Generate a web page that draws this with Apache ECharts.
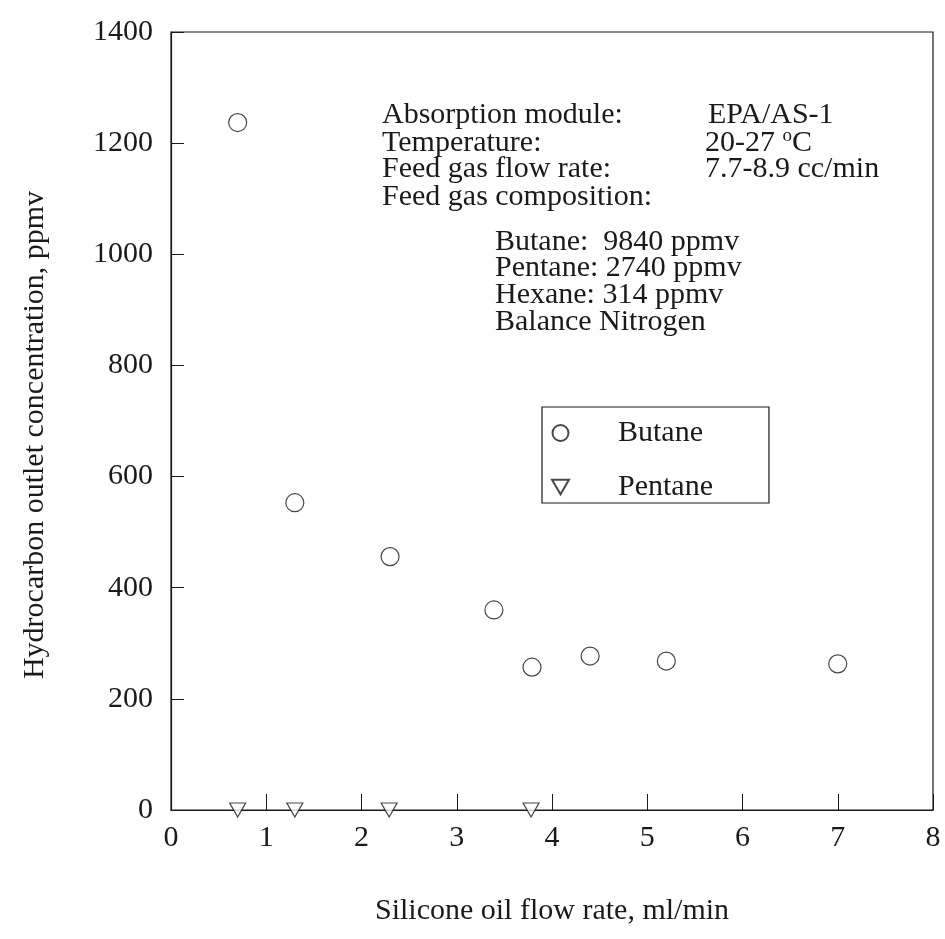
<!DOCTYPE html>
<html>
<head>
<meta charset="utf-8">
<script src="https://cdn.jsdelivr.net/npm/echarts@6/dist/echarts.min.js"></script>
<style>
  html, body { margin: 0; padding: 0; background: #fff; }
  #chart { width: 945px; height: 939px; }
</style>
</head>
<body>
<div id="chart"></div>
<script>
// Silicone oil flow rate (ml/min) and outlet concentrations (ppmv)
const butaneFlow = [0.70, 1.30, 2.30, 3.39, 3.79, 4.40, 5.20, 7.00];
const butaneConc = [1237, 553, 456, 360, 257, 277, 268, 263];
const pentaneFlow = [0.70, 1.30, 2.29, 3.78];
const pentaneConc = [0, 0, 0, 0];

const xTicks = [0, 1, 2, 3, 4, 5, 6, 7, 8];
const yTicks = [0, 200, 400, 600, 800, 1000, 1200, 1400];

const seriesNames = ['Butane', 'Pentane'];

// Experimental conditions printed inside the plot
const conditionLabels = ['Absorption module:', 'Temperature:', 'Feed gas flow rate:', 'Feed gas composition:'];
const conditionValues = ['EPA/AS-1', '20-27 {sup|o}C', '7.7-8.9 cc/min', ''];
const feedComposition = ['Butane:  9840 ppmv', 'Pentane: 2740 ppmv', 'Hexane: 314 ppmv', 'Balance Nitrogen'];

const FONT = '"Liberation Serif", "Times New Roman", serif';
const FS = 30;
const INK = '#1a1a1a';

const downTriangle = 'path://M0,0 L20,0 L10,17.32 Z';

const chart = echarts.init(document.getElementById('chart'), null, { renderer: 'canvas' });

function textEl(str, x, baseline) {
  return {
    type: 'text',
    x: x, y: baseline - 10,
    style: {
      text: str,
      font: FS + 'px ' + FONT,
      fill: INK,
      verticalAlign: 'middle',
      rich: {
        sup: { fontFamily: FONT, fontSize: 19, verticalAlign: 'top', padding: [0, 0, 14, 0], fill: INK }
      }
    }
  };
}

const graphics = [];
conditionLabels.forEach((t, i) => {
  const base = [125, 153, 179, 207][i];
  graphics.push(textEl(t, 382, base));
  if (conditionValues[i]) graphics.push(textEl(conditionValues[i], i === 0 ? 708 : 705, base));
});
feedComposition.forEach((t, i) => {
  graphics.push(textEl(t, 495, [252, 278, 305, 332][i]));
});

const option = {
  backgroundColor: '#fff',
  animation: false,
  textStyle: { fontFamily: FONT, color: INK },
  grid: {
    left: 171, right: 12, top: 32, bottom: 129,
    show: true, borderColor: INK, borderWidth: 1.2, backgroundColor: 'transparent'
  },
  xAxis: {
    type: 'value',
    min: xTicks[0], max: xTicks[xTicks.length - 1], interval: 1,
    name: 'Silicone oil flow rate, ml/min',
    nameLocation: 'middle', nameGap: 86,
    nameTextStyle: { fontFamily: FONT, fontSize: FS, color: INK },
    axisLine: { show: true, onZero: false, lineStyle: { color: INK, width: 1.2 } },
    axisTick: { show: true, inside: true, length: 16, lineStyle: { color: INK, width: 1 } },
    axisLabel: { fontFamily: FONT, fontSize: FS, color: INK, margin: 13 },
    splitLine: { show: false }
  },
  yAxis: {
    type: 'value',
    min: yTicks[0], max: yTicks[yTicks.length - 1], interval: 200,
    name: 'Hydrocarbon outlet concentration, ppmv',
    nameLocation: 'middle', nameGap: 121, nameRotate: 90,
    nameTextStyle: { fontFamily: FONT, fontSize: FS, color: INK, padding: [0, 28, 0, 0] },
    axisLine: { show: true, onZero: false, lineStyle: { color: INK, width: 1.2 } },
    axisTick: { show: true, inside: true, length: 13, lineStyle: { color: INK, width: 1 } },
    axisLabel: {
      fontFamily: FONT, fontSize: FS, color: INK, margin: 18,
      padding: [0, 0, 10, 0],
      formatter: v => String(v)
    },
    splitLine: { show: false }
  },
  legend: {
    orient: 'vertical',
    left: 542, top: 407,
    data: seriesNames,
    backgroundColor: '#fff',
    borderColor: INK, borderWidth: 1.2,
    padding: [11, 56, 1, 9],
    itemGap: 24,
    itemWidth: 17, itemHeight: 16,
    textStyle: { fontFamily: FONT, fontSize: FS, color: INK, padding: [0, 0, 0, 44] }
  },
  graphic: graphics,
  series: [
    {
      name: seriesNames[0],
      type: 'scatter',
      data: butaneFlow.map((x, i) => [x, butaneConc[i]]),
      symbol: 'circle',
      symbolSize: 18,
      itemStyle: { color: '#fff', borderColor: INK, borderWidth: 1.2 }
    },
    {
      name: seriesNames[1],
      type: 'scatter',
      data: pentaneFlow.map((x, i) => [x, pentaneConc[i]]),
      symbol: downTriangle,
      symbolSize: [16, 14],
      itemStyle: { color: '#fff', borderColor: INK, borderWidth: 1.2 }
    }
  ]
};

chart.setOption(option);
</script>
</body>
</html>
